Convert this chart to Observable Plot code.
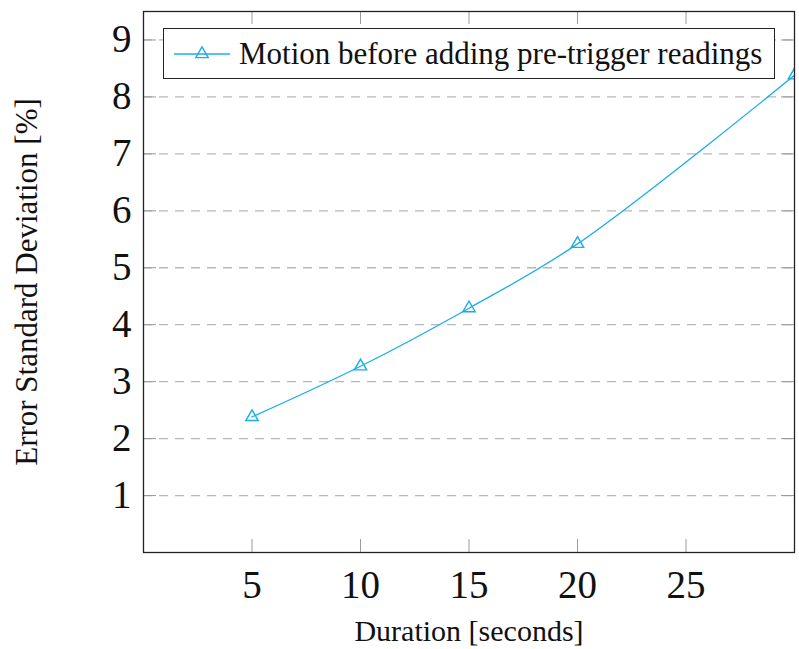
<!DOCTYPE html>
<html>
<head>
<meta charset="utf-8">
<script src="https://cdn.jsdelivr.net/npm/d3@7"></script>
<script src="https://cdn.jsdelivr.net/npm/@observablehq/plot@0.6"></script>
<style>
  html, body { margin: 0; padding: 0; background: #fff; }
  #wrap { position: relative; width: 799px; height: 649px; }
  #legend {
    position: absolute; left: 163px; top: 28px; width: 610px; height: 49px;
    border: 1.3px solid #222; background: #fff; display: flex; align-items: center;
    font-family: "Liberation Serif", serif; font-size: 31px; color: #111;
  }
  #legend svg { margin-left: 9px; margin-right: 8px; }
</style>
</head>
<body>
<div id="wrap"></div>
<script>
const duration = [5, 10, 15, 20, 30];
const errorStd = [2.38, 3.27, 4.29, 5.42, 8.38];
const xTicks = [5, 10, 15, 20, 25];
const yTicks = [1, 2, 3, 4, 5, 6, 7, 8, 9];
const seriesName = "Motion before adding pre-trigger readings";
const xLabel = "Duration [seconds]";
const yLabel = "Error Standard Deviation [%]";

const data = duration.map((d, i) => ({duration: d, err: errorStd[i]}));
const color = "#1aaee8";

const W = 799, H = 649;
const mL = 143, mR = 5, mT = 11, mB = 97;
const fw = W - mL - mR, fh = H - mT - mB;
const tick = 13;

const chart = Plot.plot({
  width: W, height: H,
  marginLeft: mL, marginRight: mR, marginTop: mT, marginBottom: mB,
  style: {fontFamily: "Liberation Serif, serif", color: "#111", background: "#fff"},
  x: {domain: [0, 30]},
  y: {domain: [0, 9.5]},
  marks: [
    Plot.gridY(yTicks, {stroke: "#b8b8b8", strokeOpacity: 1, strokeWidth: 1.3, strokeDasharray: "9,7"}),
    Plot.ruleX(xTicks, {stroke: "#9a9a9a", strokeWidth: 1, insetBottom: fh - tick}),
    Plot.ruleX(xTicks, {stroke: "#9a9a9a", strokeWidth: 1, insetTop: fh - tick}),
    Plot.ruleY(yTicks, {stroke: "#9a9a9a", strokeWidth: 1, insetRight: fw - tick}),
    Plot.ruleY(yTicks, {stroke: "#9a9a9a", strokeWidth: 1, insetLeft: fw - tick}),
    Plot.axisX({ticks: xTicks, tickSize: 0, tickPadding: 18, fontSize: 39, label: null}),
    Plot.axisY({ticks: yTicks, tickSize: 0, tickPadding: 12, fontSize: 39, label: null}),
    Plot.text([xLabel], {frameAnchor: "bottom", textAnchor: "middle", lineAnchor: "middle", dy: 79, fontSize: 30}),
    Plot.text([yLabel], {frameAnchor: "left", textAnchor: "middle", lineAnchor: "middle", dx: -116, rotate: -90, fontSize: 31}),
    Plot.line(data, {x: "duration", y: "err", stroke: color, strokeWidth: 1.3, curve: "catmull-rom", clip: true}),
    Plot.dot(data, {x: "duration", y: "err", symbol: "triangle", r: 4.6, stroke: color, strokeWidth: 1.4, fill: "none", clip: true}),
    Plot.frame({stroke: "#222", strokeWidth: 1.3})
  ]
});

const wrap = document.getElementById("wrap");
wrap.appendChild(chart);

const legend = document.createElement("div");
legend.id = "legend";
const ls = d3.create("svg").attr("width", 58).attr("height", 20);
ls.append("line").attr("x1", 1).attr("x2", 57).attr("y1", 10).attr("y2", 10)
  .attr("stroke", color).attr("stroke-width", 1.3);
ls.append("path").attr("d", d3.symbol(d3.symbolTriangle, Math.PI * 4.6 * 4.6)())
  .attr("transform", "translate(29,10)").attr("fill", "none")
  .attr("stroke", color).attr("stroke-width", 1.4);
legend.appendChild(ls.node());
const span = document.createElement("span");
span.textContent = seriesName;
legend.appendChild(span);
wrap.appendChild(legend);
</script>
</body>
</html>
